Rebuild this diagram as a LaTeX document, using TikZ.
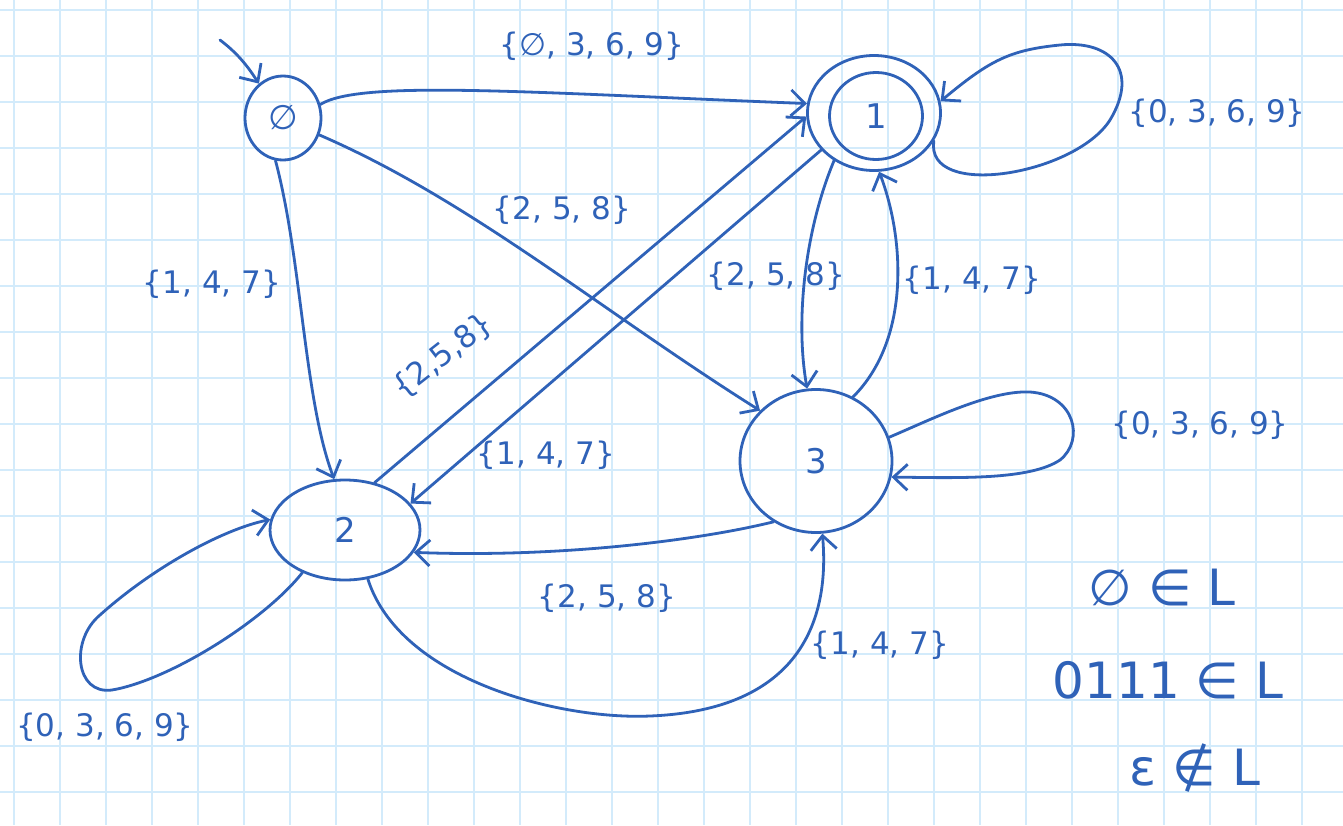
\documentclass[tikz,border=0pt]{standalone}
\usepackage{fontspec}
\setmainfont{DejaVu Sans}
\usetikzlibrary{arrows.meta,shapes.geometric}
\definecolor{ink}{HTML}{2F62B8}
\definecolor{gridblue}{HTML}{D3EBFB}
\tikzset{
  ink/.style={draw=ink,line width=2.8pt,line cap=round,line join=round},
  state/.style={ink,ellipse,inner sep=0pt,text=ink,font=\fontsize{34}{40}\selectfont},
  edge/.style={ink,-{Straight Barb[length=14pt,width=26pt,line width=2.8pt]}},
  lab/.style={text=ink,font=\fontsize{31}{36}\selectfont,inner sep=0pt},
  big/.style={text=ink,font=\fontsize{50}{56}\selectfont,inner sep=0pt},
}
\begin{document}
\begin{tikzpicture}[x=1pt,y=-1pt]
\useasboundingbox (0,0) rectangle (1343,825);
\fill[white] (0,0) rectangle (1343,825);
% grid paper
\foreach \k in {0,...,29} \draw[gridblue,line width=2pt] (14.3+46*\k,0) -- (14.3+46*\k,825);
\foreach \k in {0,...,17} \draw[gridblue,line width=2pt] (0,10+46*\k) -- (1343,10+46*\k);
% states
\node[state,minimum width=76,minimum height=84] (s0) at (283,118) {∅};
\node[state,minimum width=133,minimum height=115] (s1) at (874,113) {};
\node[state,minimum width=93,minimum height=87] (s1i) at (876,116) {1};
\node[state,minimum width=150,minimum height=100] (s2) at (345,530) {2};
\node[state,minimum width=152,minimum height=143] (s3) at (816,461) {3};
% initial arrow
\coordinate (init) at (220,40);
\draw[edge] (init) .. controls (240,55) and (250,70) .. (s0.125);
% 0 -> 1
\draw[edge] (s0.20) .. controls (360,80) and (520,92) .. (s1.172);
\node[lab] (l01) at (592,46) {\{∅, 3, 6, 9\}};
% loop on 1
\draw[edge] (s1.-25) .. controls (925,200) and (1075,175) .. (1110,120)
  .. controls (1140,70) and (1110,40) .. (1060,45)
  .. controls (1010,50) and (990,60) .. (s1.10);
\node[lab] (l11) at (1217,113) {\{0, 3, 6, 9\}};
% 0 -> 2
\draw[edge] (s0.-100) .. controls (302,260) and (304,400) .. (s2.102);
\node[lab] (l02) at (212,284) {\{1, 4, 7\}};
% 0 -> 3
\draw[edge] (s0.-25) .. controls (470,200) and (600,310) .. (s3.138);
\node[lab] (l03) at (562,210) {\{2, 5, 8\}};
% 2 -> 1
\draw[edge] (s2.58) -- (s1.183);
\node[lab,rotate=38] (l21) at (443,356) {\{2,5,8\}};
% 1 -> 2
\draw[edge] (s1.-145) -- (s2.22);
\node[lab] (l12) at (546,455) {\{1, 4, 7\}};
% 1 -> 3
\draw[edge] (s1.-130) .. controls (805,230) and (795,320) .. (s3.97);
\node[lab] (l13) at (776,276) {\{2, 5, 8\}};
% 3 -> 1
\draw[edge] (s3.60) .. controls (910,340) and (905,240) .. (s1.-85);
\node[lab] (l31) at (972,280) {\{1, 4, 7\}};
% loop on 3
\draw[edge] (s3.18) .. controls (930,420) and (990,390) .. (1030,392)
  .. controls (1075,395) and (1085,440) .. (1060,460)
  .. controls (1030,480) and (960,478) .. (s3.-12);
\node[lab] (l33) at (1200,425) {\{0, 3, 6, 9\}};
% 3 -> 2
\draw[edge] (s3.-125) .. controls (700,540) and (560,558) .. (s2.-18);
\node[lab] (l32) at (607,598) {\{2, 5, 8\}};
% 2 -> 3
\draw[edge] (s2.-65) .. controls (400,680) and (560,720) .. (650,716)
  .. controls (800,710) and (830,620) .. (s3.-85);
\node[lab] (l23) at (880,645) {\{1, 4, 7\}};
% loop on 2
\draw[edge] (s2.-135) .. controls (265,620) and (170,680) .. (112,690)
  .. controls (75,695) and (70,640) .. (100,615)
  .. controls (150,570) and (220,530) .. (s2.172);
\node[lab] (l22) at (105,727) {\{0, 3, 6, 9\}};
% membership notes
\node[big] (n1) at (1162,588) {∅ ∈ L};
\node[big] (n2) at (1168,680) {0111 ∈ L};
\node[big] (n3) at (1195,768) {ε ∉ L};
\end{tikzpicture}
\end{document}
